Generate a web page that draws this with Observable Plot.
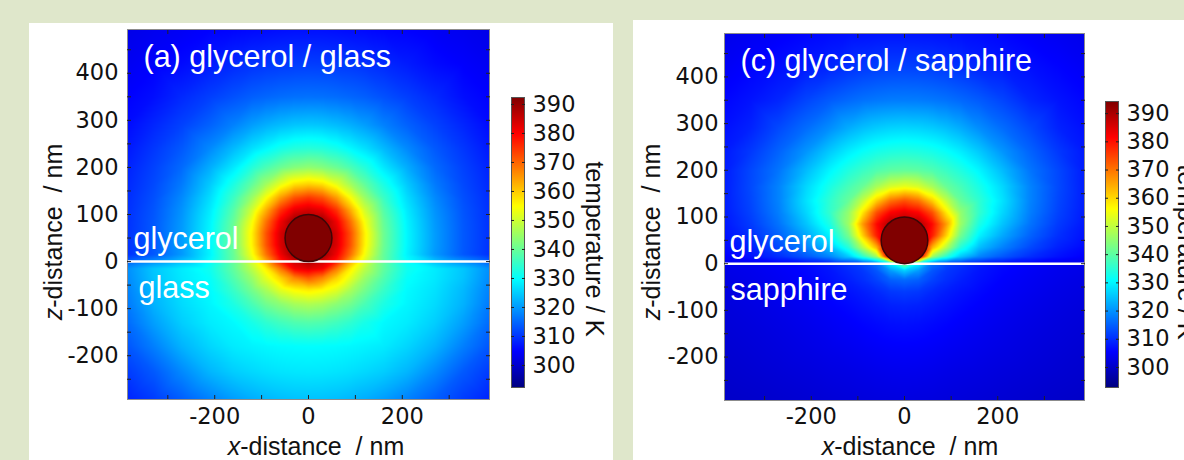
<!DOCTYPE html>
<html>
<head>
<meta charset="utf-8">
<script src="https://cdn.jsdelivr.net/npm/d3@7"></script>
<script src="https://cdn.jsdelivr.net/npm/@observablehq/plot@0.6"></script>
<style>
  html, body { margin: 0; padding: 0; width: 1184px; height: 460px; overflow: hidden; background: #dfe7cb; }
  .card { position: absolute; background: #ffffff; }
  .abs { position: absolute; }
  #overlay { position: absolute; left: 0; top: 0; pointer-events: none; }
</style>
</head>
<body>
<div class="card" style="left:29px;top:23px;width:584px;height:437px"></div>
<div class="card" style="left:633px;top:20px;width:551px;height:440px"></div>
<div id="root"></div>
<script>
// ---------- data ----------
// sample positions (nm); columns are mirrored to negative x
const xSamples = [0, 30, 60, 90, 120, 160, 210, 270, 330, 386];
const zSamples = [493, 420, 350, 290, 240, 200, 165, 135, 110, 85, 60, 35, 15, 0,
                  -15, -35, -60, -90, -130, -180, -235, -293];

// temperature (K), glycerol / glass, one row per zSamples entry
const tempGlass = [
  [306.4, 306.4, 306.2, 305.9, 305.7, 305.3, 304.9, 304.0, 303.4, 302.7],
  [310.8, 310.7, 310.5, 310.2, 309.7, 308.8, 307.5, 305.8, 304.7, 303.7],
  [316.0, 315.9, 315.5, 314.9, 314.2, 312.8, 311.0, 308.8, 306.2, 304.9],
  [324.6, 324.3, 323.4, 322.1, 320.4, 317.6, 314.5, 311.3, 308.5, 305.9],
  [333.8, 333.3, 331.8, 329.4, 327.0, 323.2, 318.4, 313.6, 310.2, 307.2],
  [344.0, 342.8, 340.4, 337.2, 333.4, 327.8, 321.9, 315.3, 311.3, 308.2],
  [359.1, 357.4, 352.2, 345.6, 339.4, 332.3, 324.7, 316.9, 312.0, 308.8],
  [374.9, 372.2, 364.9, 354.7, 345.2, 335.7, 326.7, 318.4, 312.7, 309.3],
  [384.0, 381.9, 374.9, 362.7, 350.3, 338.2, 328.0, 319.3, 313.2, 309.6],
  [390.0, 390.0, 381.2, 368.8, 354.2, 339.9, 328.9, 319.9, 313.5, 309.7],
  [390.0, 390.0, 383.8, 372.0, 356.3, 340.7, 329.3, 320.2, 313.6, 309.8],
  [390.0, 390.0, 383.5, 371.7, 356.0, 340.6, 329.3, 320.2, 313.6, 309.8],
  [390.0, 390.0, 381.2, 368.8, 354.2, 339.9, 328.9, 319.9, 313.5, 309.7],
  [388.0, 384.7, 377.4, 362.9, 351.2, 339.8, 330.2, 323.9, 319.0, 314.4],
  [383.0, 380.7, 368.3, 356.5, 348.3, 339.5, 331.4, 328.1, 324.4, 318.9],
  [371.1, 366.9, 359.3, 352.3, 344.9, 337.8, 330.4, 327.8, 324.1, 318.5],
  [357.0, 355.4, 352.2, 346.5, 341.4, 335.4, 329.6, 327.1, 323.1, 317.7],
  [347.2, 346.2, 343.6, 341.0, 337.1, 332.6, 329.1, 326.4, 322.4, 316.9],
  [338.0, 337.5, 336.1, 334.3, 332.0, 329.5, 328.1, 325.1, 320.5, 315.4],
  [330.0, 329.9, 329.7, 329.3, 328.8, 328.0, 325.9, 322.5, 317.4, 313.3],
  [327.7, 327.6, 327.3, 326.8, 326.1, 325.0, 322.7, 318.3, 313.6, 310.6],
  [324.0, 323.9, 323.5, 322.8, 321.9, 320.3, 317.6, 314.1, 310.7, 308.3]
];

// temperature (K), glycerol / sapphire
const tempSapphire = [
  [307.5, 307.5, 307.4, 307.2, 307.0, 306.6, 306.0, 305.0, 304.3, 303.6],
  [312.1, 312.0, 311.7, 311.2, 310.4, 309.2, 308.2, 307.0, 305.8, 304.7],
  [318.0, 317.9, 317.5, 316.9, 316.0, 314.6, 312.4, 309.2, 307.4, 306.0],
  [327.0, 326.7, 325.9, 324.6, 322.8, 319.7, 316.4, 312.8, 308.9, 307.1],
  [334.3, 333.9, 333.0, 331.4, 329.3, 325.7, 320.5, 315.4, 311.1, 308.0],
  [340.7, 340.2, 338.7, 336.5, 334.0, 330.1, 324.3, 317.2, 312.6, 308.3],
  [354.1, 352.4, 347.5, 341.3, 338.0, 333.3, 327.1, 318.6, 312.8, 308.4],
  [373.5, 370.2, 361.0, 350.2, 341.1, 335.5, 328.2, 318.6, 312.5, 308.4],
  [384.0, 381.6, 373.5, 358.2, 345.5, 335.9, 327.1, 318.1, 312.1, 308.2],
  [390.0, 390.0, 380.8, 365.9, 346.5, 333.6, 325.2, 317.0, 311.3, 307.8],
  [390.0, 390.0, 378.8, 360.6, 342.4, 329.9, 322.4, 315.3, 310.2, 307.2],
  [390.0, 390.0, 363.9, 349.0, 334.8, 324.7, 318.6, 312.8, 308.7, 306.3],
  [390.0, 390.0, 346.5, 334.9, 325.6, 318.8, 314.3, 310.0, 307.1, 305.3],
  [345.0, 330.0, 317.0, 312.5, 310.5, 308.0, 306.3, 305.0, 304.0, 303.5],
  [326.0, 321.0, 314.0, 311.0, 309.5, 307.5, 306.0, 304.8, 303.8, 303.2],
  [316.0, 315.0, 312.0, 310.0, 308.5, 307.0, 305.5, 304.4, 303.5, 302.8],
  [311.5, 311.0, 309.5, 308.3, 307.3, 306.2, 305.0, 304.0, 303.1, 302.5],
  [309.0, 308.7, 307.9, 307.1, 306.3, 305.4, 304.4, 303.5, 302.7, 302.1],
  [307.0, 306.8, 306.3, 305.8, 305.2, 304.5, 303.7, 302.9, 302.2, 301.7],
  [305.3, 305.2, 304.9, 304.5, 304.1, 303.6, 303.0, 302.3, 301.7, 301.2],
  [303.8, 303.7, 303.5, 303.2, 302.9, 302.6, 302.1, 301.6, 301.1, 300.7],
  [302.5, 302.4, 302.3, 302.1, 301.9, 301.6, 301.2, 300.8, 300.4, 300.1]
];

// gold nanoparticle: centre and radius (nm)
const particleX = [0];
const particleZ = [50];
const particleRadius = 50;

const xDomain = [-386, 386];
const zDomain = [-293, 493];
const xLabelTicks = [-200, 0, 200];
const xMinorTicks = [-300, -200, -100, 0, 100, 200, 300];
const zLabelTicks = [-200, -100, 0, 100, 200, 300, 400];
const zMinorTicks = [-250, -200, -150, -100, -50, 0, 50, 100, 150, 200, 250, 300, 350, 400, 450];
const colorbarTicks = [300, 310, 320, 330, 340, 350, 360, 370, 380, 390];
const colorDomainA = [292.4, 392.4];
const colorDomainC = [292.9, 394.3];

const panelTitles = ["(a) glycerol / glass", "(c) glycerol / sapphire"];
const upperMedium = ["glycerol", "glycerol"];
const lowerMedium = ["glass", "sapphire"];

// ---------- helpers ----------
const jet = t => {
  const c = v => Math.max(0, Math.min(1, v));
  const r = c(1.5 - Math.abs(4 * t - 3));
  const g = c(1.5 - Math.abs(4 * t - 2));
  const b = c(1.5 - Math.abs(4 * t - 1));
  return `rgb(${Math.round(r * 255)},${Math.round(g * 255)},${Math.round(b * 255)})`;
};

function gridPoints(temps) {
  const pts = [];
  zSamples.forEach((z, i) => {
    xSamples.forEach((x, j) => {
      pts.push({x, z, t: temps[i][j]});
      if (x !== 0) pts.push({x: -x, z, t: temps[i][j]});
    });
  });
  return pts;
}

const TICK_FONT = "DejaVu Sans";
const TEXT_FONT = "Liberation Sans";
const TICK_SIZE = "22.5px";
const fmt = d => String(d);   // plain hyphen-minus, as in the reference
const blank = () => "";

function panel({left, top, width, height, ml, mr, mt, mb, temps, colorDomain, idx, yPad, xPad}) {
  const innerW = width - ml - mr;
  const rPx = particleRadius * innerW / (xDomain[1] - xDomain[0]);
  const particle = particleX.map((x, i) => ({x, z: particleZ[i]}));
  const svg = Plot.plot({
    width, height, marginLeft: ml, marginRight: mr, marginTop: mt, marginBottom: mb,
    style: {background: "transparent", fontFamily: TICK_FONT, fontSize: TICK_SIZE, color: "#111", overflow: "visible"},
    x: {domain: xDomain, label: null},
    y: {domain: zDomain, label: null},
    color: {type: "linear", domain: colorDomain, interpolate: jet, clamp: true},
    marks: [
      Plot.raster(gridPoints(temps), {x: "x", y: "z", fill: "t", interpolate: "barycentric",
        x1: xDomain[0], x2: xDomain[1], y1: zDomain[0], y2: zDomain[1], pixelSize: 1}),
      Plot.ruleY([0], {stroke: "white", strokeWidth: 2.5}),
      Plot.dot(particle, {x: "x", y: "z", r: rPx, fill: "#800000", stroke: "#3c0606", strokeWidth: 1.5}),
      Plot.frame({stroke: "#8c8c8c", strokeWidth: 1}),
      Plot.axisY(zLabelTicks, {anchor: "left", tickSize: 0, tickPadding: yPad, tickFormat: fmt, label: null, fill: "#111"}),
      Plot.axisY(zMinorTicks, {anchor: "left", tickSize: -4, tickFormat: blank, label: null, stroke: "#222"}),
      Plot.axisY(zMinorTicks, {anchor: "right", tickSize: -4, tickFormat: blank, label: null, stroke: "#222"}),
      Plot.axisX(xLabelTicks, {anchor: "bottom", tickSize: 0, tickPadding: xPad, tickFormat: fmt, label: null, fill: "#111"}),
      Plot.axisX(xMinorTicks, {anchor: "bottom", tickSize: -4, tickFormat: blank, label: null, stroke: "#222"}),
      Plot.axisX(xMinorTicks, {anchor: "top", tickSize: -4, tickFormat: blank, label: null, stroke: "#222"}),
      Plot.text([panelTitles[idx]], {frameAnchor: "top-left", dx: 16, dy: 37, lineAnchor: "bottom", textAnchor: "start",
        fill: "white", fontSize: 30.5, fontFamily: TEXT_FONT}),
      Plot.text([upperMedium[idx]], {y: [0], frameAnchor: "left", dx: idx === 0 ? 6 : 5, dy: idx === 0 ? -13 : -12,
        lineAnchor: "bottom", textAnchor: "start", fill: "white", fontSize: 30.5, fontFamily: TEXT_FONT}),
      Plot.text([lowerMedium[idx]], {y: [0], frameAnchor: "left", dx: idx === 0 ? 11 : 6, dy: 36,
        lineAnchor: "bottom", textAnchor: "start", fill: "white", fontSize: 30.5, fontFamily: TEXT_FONT})
    ]
  });
  svg.classList.add("abs");
  svg.style.left = left + "px";
  svg.style.top = top + "px";
  document.getElementById("root").appendChild(svg);
}

function colorbar({left, top, barTop, barBottom, colorDomain}) {
  const ml = 6, barW = 13, width = 90;
  const mt = barTop - top;
  const height = barBottom - top + 12;
  const svg = Plot.plot({
    width, height, marginLeft: ml, marginRight: width - ml - barW, marginTop: mt, marginBottom: 12,
    style: {background: "transparent", fontFamily: TICK_FONT, fontSize: TICK_SIZE, color: "#111", overflow: "visible"},
    x: {domain: [0, 1], axis: null},
    y: {domain: colorDomain, label: null},
    color: {type: "linear", domain: colorDomain, interpolate: jet, clamp: true},
    marks: [
      Plot.raster({fill: (x, y) => y, x1: 0, x2: 1, y1: colorDomain[0], y2: colorDomain[1], pixelSize: 1}),
      Plot.frame({stroke: "#555", strokeWidth: 1}),
      Plot.axisY(colorbarTicks, {anchor: "right", tickSize: 0, tickPadding: 8, tickFormat: fmt, label: null, fill: "#111"}),
      Plot.axisY(colorbarTicks, {anchor: "right", tickSize: -3, tickFormat: blank, label: null, stroke: "#222"}),
      Plot.axisY(colorbarTicks, {anchor: "left", tickSize: -3, tickFormat: blank, label: null, stroke: "#222"})
    ]
  });
  svg.classList.add("abs");
  svg.style.left = left + "px";
  svg.style.top = top + "px";
  document.getElementById("root").appendChild(svg);
}

panel({left: 40, top: 22, width: 460, height: 438, ml: 87, mr: 11, mt: 7, mb: 61,
       temps: tempGlass, colorDomain: colorDomainA, idx: 0, yPad: 9, xPad: 9});
panel({left: 636, top: 20, width: 460, height: 440, ml: 88, mr: 12, mt: 13, mb: 60,
       temps: tempSapphire, colorDomain: colorDomainC, idx: 1, yPad: 6, xPad: 8});
colorbar({left: 505, top: 80, barTop: 97, barBottom: 387, colorDomain: colorDomainA});
colorbar({left: 1099, top: 80, barTop: 101, barBottom: 387, colorDomain: colorDomainC});

// ---------- free text: axis titles and colorbar titles ----------
const overlay = d3.select("body").append("svg").attr("id", "overlay").attr("width", 1184).attr("height", 460);
function axisTitle(x, y, italic, rest, rotate) {
  const t = overlay.append("text")
    .attr("transform", `translate(${x},${y}) rotate(${rotate})`)
    .attr("text-anchor", "middle")
    .attr("font-family", TEXT_FONT).attr("font-size", 25).attr("fill", "#111");
  t.append("tspan").attr("font-style", "italic").text(italic);
  t.append("tspan").text(rest);
  return t;
}
axisTitle(316, 455, "x", "-distance\u00a0\u00a0/ nm", 0);
axisTitle(910, 455, "x", "-distance\u00a0\u00a0/ nm", 0);
axisTitle(53, 232, "z", "-distance\u00a0\u00a0/ nm", -90).attr("dominant-baseline", "central");
axisTitle(651, 232, "z", "-distance\u00a0\u00a0/ nm", -90).attr("dominant-baseline", "central");
function cbTitle(x, y) {
  overlay.append("text")
    .attr("transform", `translate(${x},${y}) rotate(90)`)
    .attr("text-anchor", "middle").attr("dominant-baseline", "central")
    .attr("font-family", TEXT_FONT).attr("font-size", 25.5).attr("fill", "#111")
    .text("temperature / K");
}
cbTitle(595, 249);
cbTitle(1187, 252);
</script>
</body>
</html>
